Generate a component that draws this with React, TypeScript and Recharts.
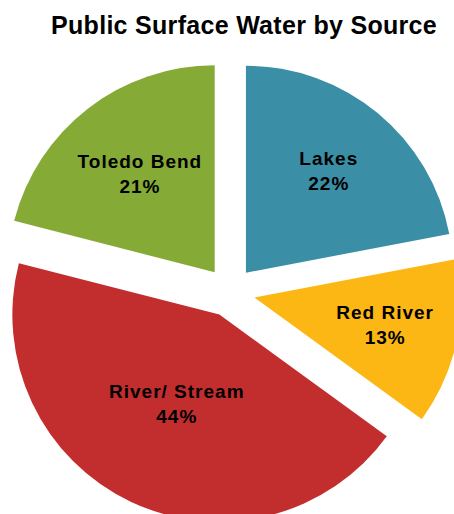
import { Cell, Pie, PieChart, Sector } from 'recharts';

const sources = ['Lakes', 'Red River', 'River/ Stream', 'Toledo Bend'];
const shares = [22, 13, 44, 21];
const colors = ['#3A8FA6', '#FDB714', '#C22D2E', '#86AA36'];

const data = sources.map((name, i) => ({ name, value: shares[i] }));

const EXPLODE = 25;
const RADIUS = 207;
const RAD = Math.PI / 180;
// how far each label sits from its (moved out) slice tip
const labelDist = [130, 134, 100, 122];

const ExplodedSector = (props: any) => {
  const { cx, cy, midAngle } = props;
  const dx = EXPLODE * Math.cos(-midAngle * RAD);
  const dy = EXPLODE * Math.sin(-midAngle * RAD);
  return <Sector {...props} cx={cx + dx} cy={cy + dy} />;
};

const renderLabel = (props: any) => {
  const { cx, cy, midAngle, name, value, index } = props;
  const r = EXPLODE + labelDist[index];
  const x = cx + r * Math.cos(-midAngle * RAD);
  const y = cy + r * Math.sin(-midAngle * RAD);
  return (
    <text
      x={x}
      y={y}
      textAnchor="middle"
      fontFamily="'Liberation Sans', Arial, sans-serif"
      fontWeight="bold"
      fontSize={19}
      letterSpacing={1}
      fill="#000"
    >
      <tspan x={x} y={y - 12.5} dominantBaseline="middle">{name}</tspan>
      <tspan x={x} y={y + 12.5} dominantBaseline="middle">{`${value}%`}</tspan>
    </text>
  );
};

export default function App() {
  return (
    <div style={{ position: 'relative', width: 454, height: 514, background: '#fff', overflow: 'hidden' }}>
      <style>{'body { margin: 0; }'}</style>
      <div
        style={{
          position: 'absolute',
          top: 10,
          left: 17,
          width: 454,
          height: 30,
          lineHeight: '30px',
          textAlign: 'center',
          fontFamily: "'Liberation Sans', Arial, sans-serif",
          fontWeight: 'bold',
          fontSize: 25,
          letterSpacing: 0.3,
          color: '#000',
          zIndex: 1,
        }}
      >
        Public Surface Water by Source
      </div>
      <PieChart width={454} height={514} margin={{ top: 0, right: 0, bottom: 0, left: 0 }}>
        <Pie
          data={data}
          dataKey="value"
          nameKey="name"
          cx={230}
          cy={292}
          outerRadius={RADIUS}
          startAngle={90}
          endAngle={-270}
          stroke="none"
          shape={ExplodedSector}
          label={renderLabel}
          labelLine={false}
          isAnimationActive={false}
        >
          {data.map((d, i) => (
            <Cell key={d.name} fill={colors[i]} />
          ))}
        </Pie>
      </PieChart>
    </div>
  );
}
